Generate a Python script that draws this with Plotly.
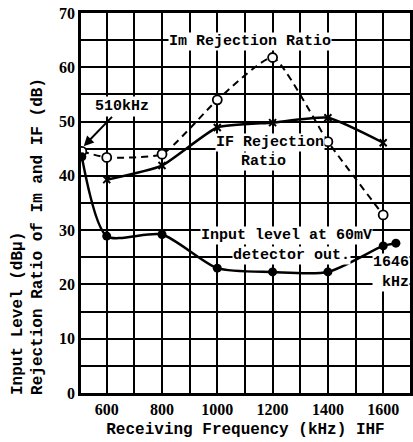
import plotly.graph_objects as go

freq_input = [510, 600, 800, 1000, 1200, 1400, 1600, 1646]
input_level = [43.5, 28.9, 29.2, 23.0, 22.3, 22.3, 27.1, 27.6]
freq_im = [510, 600, 800, 1000, 1200, 1400, 1600]
im_rej = [44.5, 43.4, 44.0, 54.0, 61.8, 46.3, 32.8]
freq_if = [600, 800, 1000, 1200, 1400, 1600]
if_rej = [39.3, 41.9, 48.9, 49.8, 50.7, 46.1]

x_ticks = [600, 800, 1000, 1200, 1400, 1600]
y_ticks = [0, 10, 20, 30, 40, 50, 60, 70]

MONO = "Liberation Mono"
SERIF = "Liberation Serif"

fig = go.Figure()
fig.add_trace(go.Scatter(
    x=freq_im, y=im_rej, mode="lines+markers",
    line=dict(color="black", width=2, dash="7px,5px", shape="spline", smoothing=0.5),
    marker=dict(symbol="circle", size=9, color="white", line=dict(color="black", width=1.8)),
    showlegend=False))
fig.add_trace(go.Scatter(
    x=freq_if, y=if_rej, mode="lines+markers",
    line=dict(color="black", width=2.5, shape="spline", smoothing=0.5),
    marker=dict(symbol="x-thin", size=7, color="black", line=dict(color="black", width=2)),
    showlegend=False))
fig.add_trace(go.Scatter(
    x=freq_input, y=input_level, mode="lines+markers",
    line=dict(color="black", width=2.5, shape="spline", smoothing=0.7),
    marker=dict(symbol="circle", size=9, color="black"),
    showlegend=False))

ann_font = dict(family=MONO, size=15, color="black")


def label(x, y, text, **kw):
    fig.add_annotation(x=x, y=y, xref="x", yref="y", text=f"<b>{text}</b>",
                       showarrow=False, bgcolor="white", font=ann_font, borderpad=0, **kw)


label(1118, 64.8, "Im Rejection Ratio")
label(1189, 46.1, "IF Rejection")
label(1167, 42.6, "Ratio")
label(1250, 29.1, "Input level at 60mV")
label(1268, 25.4, "detector out.")
fig.add_annotation(x=512, y=45.2, xref="x", yref="y", ax=654, ay=52.7, axref="x", ayref="y",
                   text="<b>510kHz</b>", showarrow=True, arrowhead=2, arrowsize=1,
                   arrowwidth=2, arrowcolor="black", bgcolor="white", font=ann_font,
                   borderpad=1, standoff=2)
fig.add_annotation(x=1, xref="paper", xanchor="right", y=22.2, yref="y",
                   text="<b>1646<br>kHz</b>", align="right",
                   showarrow=False, bgcolor="white", font=ann_font, borderpad=0)

title_font = dict(family=MONO, size=16, color="black")
fig.add_annotation(x=-0.19, y=-0.0105, xref="paper", yref="paper", xanchor="center",
                   yanchor="bottom", textangle=-90, text="<b>Input Level (dBμ)</b>",
                   showarrow=False, font=title_font)
fig.add_annotation(x=-0.1295, y=-0.0105, xref="paper", yref="paper", xanchor="center",
                   yanchor="bottom", textangle=-90,
                   text="<b>Rejection Ratio of Im and IF (dB)</b>",
                   showarrow=False, font=title_font)

fig.update_xaxes(range=[507, 1697], tickvals=x_ticks, ticktext=[f"<b>{v}</b>" for v in x_ticks],
                 showgrid=True, gridcolor="black", gridwidth=2,
                 minor=dict(dtick=100, tick0=500, showgrid=True, gridcolor="black", gridwidth=1.6),
                 showline=True, linecolor="black", linewidth=2.5, mirror=True,
                 ticks="", tickfont=dict(family=SERIF, size=16, color="black"),
                 ticklabeloverflow="allow",
                 title=dict(text="<b>Receiving Frequency (kHz) IHF</b>", font=title_font, standoff=6),
                 zeroline=False)
fig.update_yaxes(range=[0, 70], tickvals=y_ticks, ticktext=[f"<b>{v}</b>" for v in y_ticks],
                 showgrid=True, gridcolor="black", gridwidth=2,
                 minor=dict(dtick=5, tick0=0, showgrid=True, gridcolor="black", gridwidth=1.5),
                 showline=True, linecolor="black", linewidth=2.5, mirror=True,
                 ticks="", tickfont=dict(family=SERIF, size=16, color="black"),
                 ticklabeloverflow="allow",
                 zeroline=False)

fig.update_layout(width=413, height=442, margin=dict(l=81, r=0, t=13, b=49),
                  paper_bgcolor="white", plot_bgcolor="white", showlegend=False)

# remove the page's default 8px body margin so the figure fills the window exactly
fig.write_html("out.html", config={"displayModeBar": False},
               post_script="document.body.style.margin='0';document.body.style.overflow='hidden';")
